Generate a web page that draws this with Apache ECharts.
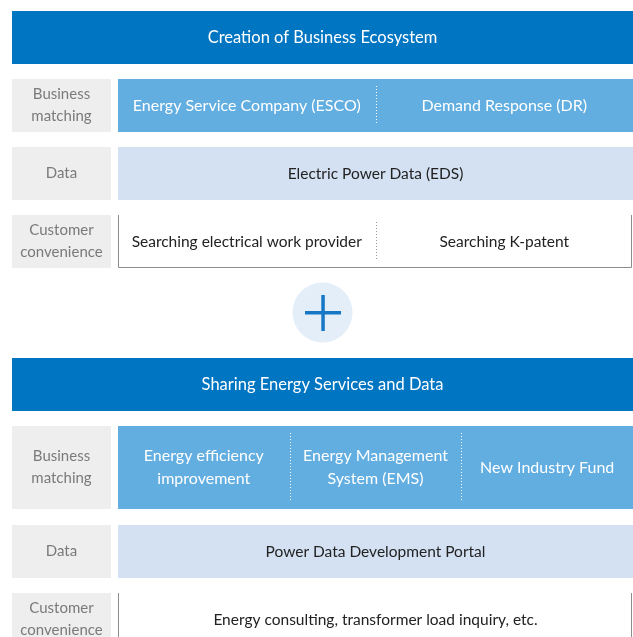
<!DOCTYPE html>
<html>
<head>
<meta charset="utf-8">
<script src="https://cdn.jsdelivr.net/npm/echarts@6/dist/echarts.min.js"></script>
<style>
  html, body { margin: 0; padding: 0; background: #fff; }
  #main { width: 633px; height: 637px; }
</style>
</head>
<body>
<div id="main"></div>
<script>
// section titles
const sectionTitles = ['Creation of Business Ecosystem', 'Sharing Energy Services and Data']
// row labels (left grey column)
const rowLabels = ['Business\nmatching', 'Data', 'Customer\nconvenience']
// first section cells
const topMatching = ['Energy Service Company (ESCO)', 'Demand Response (DR)']
const topData = ['Electric Power Data (EDS)']
const topConvenience = ['Searching electrical work provider', 'Searching K-patent']
// second section cells
const bottomMatching = ['Energy efficiency\nimprovement', 'Energy Management\nSystem (EMS)', 'New Industry Fund']
const bottomData = ['Power Data Development Portal']
const bottomConvenience = ['Energy consulting, transformer load inquiry, etc.']

const FONT = 'Lato, "Noto Sans", sans-serif'
const LEFT = 12
const RIGHT = 633
const LABEL_W = 99
const CELL_X = 118
const colors = {
  header: '#0075c2',
  matching: '#62aee1',
  data: '#d4e1f2',
  label: '#eeeeee',
  labelText: '#7a7a7a',
  dark: '#222222',
  border: '#8c8c8c'
}

const elements = []

function addRect(x, y, w, h, fill) {
  elements.push({ type: 'rect', shape: { x: x, y: y, width: w, height: h }, style: { fill: fill }, silent: true })
}

function addText(text, cx, cy, color, size, lineHeight) {
  elements.push({
    type: 'text',
    x: cx,
    y: cy,
    silent: true,
    style: {
      text: text,
      fill: color,
      font: size + 'px ' + FONT,
      lineHeight: lineHeight,
      align: 'center',
      verticalAlign: 'middle'
    }
  })
}

function addDots(x, y1, y2, color) {
  elements.push({
    type: 'line',
    silent: true,
    shape: { x1: x, y1: y1, x2: x, y2: y2 },
    style: { stroke: color, lineWidth: 1, lineDash: [1, 2] }
  })
}

// 一行：左侧标签 + 右侧单元格
function addRow(label, items, y, h, kind) {
  addRect(LEFT, y, LABEL_W, h, colors.label)
  addText(label, LEFT + LABEL_W / 2, y + h / 2, colors.labelText, 15, 22)
  const w = RIGHT - CELL_X
  let textColor = colors.dark
  let dotColor = '#999999'
  let size = 15.5
  if (kind === 'matching') {
    addRect(CELL_X, y, w, h, colors.matching)
    textColor = '#ffffff'
    dotColor = '#ffffff'
    size = 16
  } else if (kind === 'data') {
    addRect(CELL_X, y, w, h, colors.data)
  } else {
    // 边框：左、下、右
    elements.push({
      type: 'polyline',
      silent: true,
      shape: { points: [[CELL_X + 0.5, y], [CELL_X + 0.5, y + h - 0.5], [RIGHT - 1.5, y + h - 0.5], [RIGHT - 1.5, y]] },
      style: { stroke: colors.border, lineWidth: 1, fill: null }
    })
  }
  const cw = w / items.length
  items.forEach(function (t, i) {
    addText(t, CELL_X + cw * i + cw / 2, y + h / 2, textColor, size, 23)
    if (i > 0) {
      addDots(Math.round(CELL_X + cw * i) + 0.5, y + 7, y + h - 7, dotColor)
    }
  })
}

function addHeader(title, y) {
  addRect(LEFT, y, RIGHT - LEFT, 53, colors.header)
  addText(title, (LEFT + RIGHT) / 2, y + 26.5, '#ffffff', 16.5, 22)
}

// 第一部分
addHeader(sectionTitles[0], 11)
addRow(rowLabels[0], topMatching, 79, 53, 'matching')
addRow(rowLabels[1], topData, 147, 53, 'data')
addRow(rowLabels[2], topConvenience, 215, 53, 'convenience')

// 加号
elements.push({ type: 'circle', silent: true, shape: { cx: 322.5, cy: 312.5, r: 30 }, style: { fill: '#e4eef9' } })
addRect(305, 311, 36, 3.5, '#1877c5')
addRect(321.3, 295, 3.5, 36, '#1877c5')

// 第二部分
addHeader(sectionTitles[1], 358)
addRow(rowLabels[0], bottomMatching, 426, 83, 'matching')
addRow(rowLabels[1], bottomData, 525, 53, 'data')
addRow(rowLabels[2], bottomConvenience, 593, 53, 'convenience')

const chart = echarts.init(document.getElementById('main'))
chart.setOption({
  animation: false,
  graphic: { elements: elements }
})
</script>
</body>
</html>
